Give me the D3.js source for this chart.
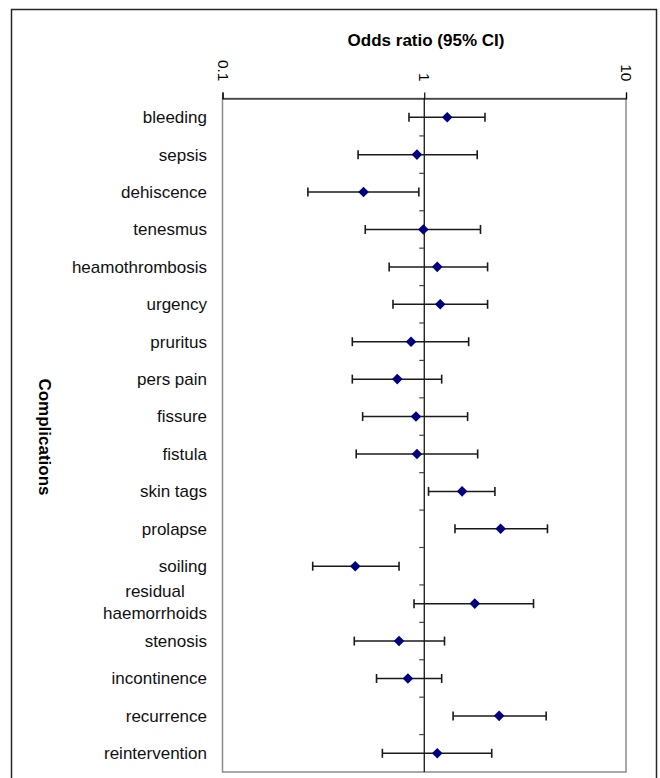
<!DOCTYPE html>
<html>
<head>
<meta charset="utf-8">
<script src="https://cdn.jsdelivr.net/npm/d3@7"></script>
<style>
  body { margin: 0; background: #fff; }
  svg { display: block; font-family: "Liberation Sans", Arial, sans-serif; }
</style>
</head>
<body>
<div id="container"></div>
<script>
// Chart data
var categories = ['bleeding', 'sepsis', 'dehiscence', 'tenesmus', 'heamothrombosis', 'urgency',
  'pruritus', 'pers pain', 'fissure', 'fistula', 'skin tags', 'prolapse', 'soiling',
  'residual\nhaemorrhoids', 'stenosis', 'incontinence', 'recurrence', 'reintervention'];
var oddsRatio = [1.30, 0.92, 0.50, 0.99, 1.16, 1.20, 0.86, 0.735, 0.91, 0.92, 1.54, 2.39, 0.455, 1.78, 0.75, 0.83, 2.35, 1.16];
var ciLower = [0.84, 0.47, 0.265, 0.51, 0.67, 0.70, 0.44, 0.44, 0.495, 0.46, 1.05, 1.42, 0.28, 0.89, 0.45, 0.58, 1.39, 0.62];
var ciUpper = [2.00, 1.83, 0.94, 1.90, 2.06, 2.06, 1.66, 1.22, 1.64, 1.84, 2.24, 4.08, 0.75, 3.48, 1.26, 1.22, 4.02, 2.16];
var xTicks = [0.1, 1, 10];

// Plot constants
var width = 660,
height = 778,
plotLeft = 222.5,
plotRight = 626,
plotTop = 98.5,
plotBottom = 772;

var rows = categories.map(function (c, i) {
  return { name: c, or: oddsRatio[i], lo: ciLower[i], hi: ciUpper[i] };
});

var svg = d3.select('#container').append('svg').attr('width', width).attr('height', height);

// outer chart border
svg.append('rect')
  .attr('x', 11.5).attr('y', 9.5)
  .attr('width', 645).attr('height', 800)
  .attr('fill', 'none').attr('stroke', '#262626').attr('stroke-width', 1.5);

var x = d3.scaleLog().domain([0.1, 10]).range([plotLeft, plotRight]);
var y = d3.scaleBand().domain(categories).range([plotTop, plotBottom]).padding(0);

// plot area border (grey)
svg.append('rect')
  .attr('x', plotLeft).attr('y', plotTop)
  .attr('width', plotRight - plotLeft).attr('height', plotBottom - plotTop)
  .attr('fill', 'none').attr('stroke', '#8c8c8c').attr('stroke-width', 1.5);

// top value axis
var xAxis = d3.axisTop(x).tickValues(xTicks).tickSize(6).tickFormat(d3.format('~g'));
var gx = svg.append('g')
  .attr('transform', 'translate(0,' + plotTop + ')')
  .call(xAxis);
gx.select('.domain').attr('stroke', '#000').attr('stroke-width', 1.2);
gx.selectAll('.tick line').attr('stroke', '#000').attr('stroke-width', 1.2);
gx.selectAll('.tick text')
  .attr('y', 0).attr('dy', '0.35em')
  .attr('transform', 'translate(0,-17) rotate(90)')
  .attr('text-anchor', 'end')
  .attr('font-size', 15.5).attr('font-family', '"Liberation Sans", Arial, sans-serif')
  .attr('fill', '#000');

// axis title
svg.append('text')
  .attr('x', 426).attr('y', 46)
  .attr('text-anchor', 'middle')
  .attr('font-size', 17).attr('font-weight', 'bold')
  .text('Odds ratio (95% CI)');

// category axis line at OR = 1
svg.append('line')
  .attr('x1', x(1)).attr('x2', x(1))
  .attr('y1', plotTop).attr('y2', plotBottom)
  .attr('stroke', '#000').attr('stroke-width', 1.2);

// small ticks between categories
var boundaries = d3.range(1, categories.length).map(function (i) { return plotTop + i * y.step(); });
svg.append('g').selectAll('line').data(boundaries).enter().append('line')
  .attr('x1', x(1) - 5).attr('x2', x(1))
  .attr('y1', function (d) { return d; }).attr('y2', function (d) { return d; })
  .attr('stroke', '#444').attr('stroke-width', 1.2);

// error bars
var bars = svg.append('g').selectAll('g').data(rows).enter().append('g')
  .attr('transform', function (d) { return 'translate(0,' + (y(d.name) + y.bandwidth() / 2) + ')'; });

bars.append('line')
  .attr('x1', function (d) { return x(d.lo); })
  .attr('x2', function (d) { return x(d.hi); })
  .attr('stroke', '#1a1a1a').attr('stroke-width', 1.5);

bars.selectAll('.cap').data(function (d) { return [d.lo, d.hi]; }).enter().append('line')
  .attr('class', 'cap')
  .attr('x1', function (v) { return x(v); }).attr('x2', function (v) { return x(v); })
  .attr('y1', -4.5).attr('y2', 4.5)
  .attr('stroke', '#1a1a1a').attr('stroke-width', 1.6);

// diamond markers
var diamond = d3.symbol().type(d3.symbolSquare).size(56);
bars.append('path')
  .attr('d', diamond)
  .attr('transform', function (d) { return 'translate(' + x(d.or) + ',0) rotate(45)'; })
  .attr('fill', '#000080');

// category labels
var labels = svg.append('g').selectAll('text').data(rows).enter().append('text')
  .attr('font-size', 17)
  .attr('fill', '#111')
  .attr('y', function (d) { return y(d.name) + y.bandwidth() / 2; });

labels.each(function (d) {
  var t = d3.select(this);
  var lines = d.name.split('\n');
  if (lines.length === 1) {
    t.attr('x', 207).attr('text-anchor', 'end').attr('dy', '0.35em').text(d.name);
  } else {
    // wrapped label, lines centred on each other
    var cy = y(d.name) + y.bandwidth() / 2 - 2;
    lines.forEach(function (l, j) {
      t.append('tspan').attr('y', cy + (j - (lines.length - 1) / 2) * 22).attr('dy', '0.35em').text(l);
    });
    var w = d3.max(t.selectAll('tspan').nodes(), function (n) { return n.getComputedTextLength(); });
    t.attr('text-anchor', 'middle');
    t.selectAll('tspan').attr('x', 207 - w / 2);
  }
});

// vertical axis title
svg.append('text')
  .attr('transform', 'translate(39,437) rotate(90)')
  .attr('text-anchor', 'middle')
  .attr('font-size', 17).attr('font-weight', 'bold')
  .text('Complications');
</script>
</body>
</html>
